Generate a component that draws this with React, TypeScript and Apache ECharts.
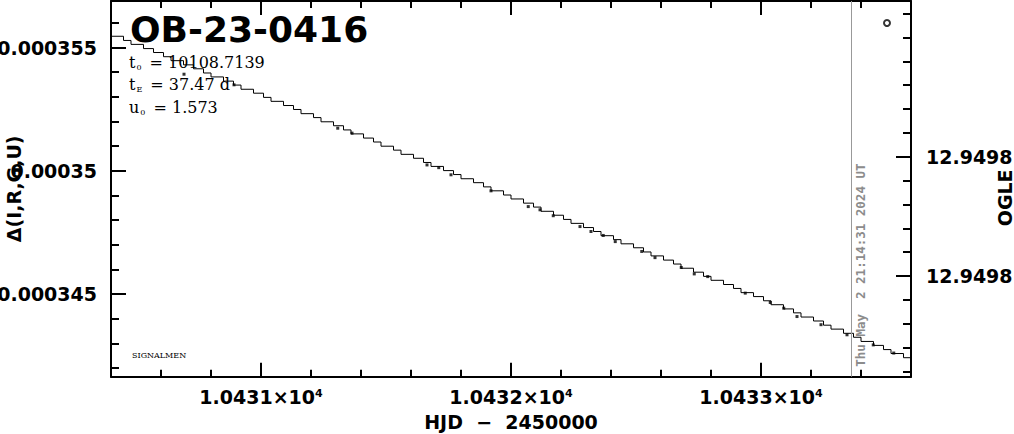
import React, { useEffect, useRef } from "react";
import * as echarts from "echarts";

// Model curve (step levels)
const stepHjd = [
  10430.40, 10430.45, 10430.48, 10430.53, 10430.57, 10430.61, 10430.64, 10430.69, 10430.73, 10430.77,
  10430.80, 10430.85, 10430.89, 10430.92, 10430.97, 10431.01, 10431.04, 10431.09, 10431.13, 10431.16,
  10431.21, 10431.24, 10431.29, 10431.33, 10431.36, 10431.41, 10431.45, 10431.48, 10431.53, 10431.56,
  10431.61, 10431.65, 10431.68, 10431.73, 10431.77, 10431.80, 10431.85, 10431.89, 10431.92, 10431.97,
  10432.00, 10432.05, 10432.09, 10432.12, 10432.17, 10432.21, 10432.24, 10432.29, 10432.33, 10432.36,
  10432.41, 10432.44, 10432.49, 10432.53, 10432.56, 10432.61, 10432.65, 10432.68, 10432.73, 10432.77,
  10432.80, 10432.85, 10432.89, 10432.92, 10432.97, 10433.01, 10433.04, 10433.09, 10433.13, 10433.16,
  10433.21, 10433.25, 10433.28, 10433.33, 10433.37, 10433.40, 10433.45, 10433.49, 10433.52, 10433.57,
  10433.60,
];
const stepDelta = [
  3.5546e-4, 3.5529e-4, 3.5513e-4, 3.5496e-4, 3.5480e-4, 3.5463e-4, 3.5447e-4, 3.5430e-4, 3.5414e-4, 3.5397e-4,
  3.5381e-4, 3.5364e-4, 3.5348e-4, 3.5331e-4, 3.5315e-4, 3.5298e-4, 3.5282e-4, 3.5265e-4, 3.5249e-4, 3.5232e-4,
  3.5216e-4, 3.5199e-4, 3.5183e-4, 3.5166e-4, 3.5150e-4, 3.5133e-4, 3.5117e-4, 3.5100e-4, 3.5084e-4, 3.5067e-4,
  3.5051e-4, 3.5034e-4, 3.5018e-4, 3.5001e-4, 3.4985e-4, 3.4968e-4, 3.4952e-4, 3.4935e-4, 3.4919e-4, 3.4902e-4,
  3.4886e-4, 3.4869e-4, 3.4853e-4, 3.4836e-4, 3.4820e-4, 3.4803e-4, 3.4787e-4, 3.4770e-4, 3.4754e-4, 3.4737e-4,
  3.4721e-4, 3.4704e-4, 3.4688e-4, 3.4671e-4, 3.4655e-4, 3.4638e-4, 3.4622e-4, 3.4605e-4, 3.4589e-4, 3.4572e-4,
  3.4556e-4, 3.4539e-4, 3.4523e-4, 3.4506e-4, 3.4490e-4, 3.4473e-4, 3.4457e-4, 3.4440e-4, 3.4424e-4, 3.4407e-4,
  3.4391e-4, 3.4374e-4, 3.4358e-4, 3.4341e-4, 3.4325e-4, 3.4308e-4, 3.4292e-4, 3.4275e-4, 3.4259e-4, 3.4242e-4,
  3.4242e-4,
];

// Data points lying on the curve
const pointHjd = [
  10430.692, 10430.892, 10431.307, 10431.364, 10431.664, 10431.711, 10431.760, 10431.920, 10432.069, 10432.116,
  10432.169, 10432.276, 10432.320, 10432.369, 10432.417, 10432.523, 10432.576, 10432.681, 10432.733, 10432.787,
  10432.937, 10433.037, 10433.091, 10433.144, 10433.240, 10433.344, 10433.449, 10433.531,
];
const pointDelta = [
  3.5392e-4, 3.5349e-4, 3.5173e-4, 3.5153e-4, 3.5024e-4, 3.5013e-4, 3.4984e-4, 3.4919e-4, 3.4855e-4, 3.4842e-4,
  3.4818e-4, 3.4774e-4, 3.4754e-4, 3.4738e-4, 3.4713e-4, 3.4673e-4, 3.4648e-4, 3.4608e-4, 3.4582e-4, 3.4571e-4,
  3.4504e-4, 3.4466e-4, 3.4443e-4, 3.4409e-4, 3.4376e-4, 3.4335e-4, 3.4294e-4, 3.4261e-4,
];

// Outlying point (open circle, top right)
const outlierHjd = [10433.504];
const outlierDelta = [3.5600e-4];

// Axes
const xMin = 10430.4;
const xMax = 10433.6;
const xMajor = [10431, 10432, 10433];
const xMajorLabels = ["1.0431", "1.0432", "1.0433"];
const xMinor = [10430.6, 10430.8, 10431.2, 10431.4, 10431.6, 10431.8, 10432.2, 10432.4, 10432.6, 10432.8, 10433.2, 10433.4];

const yMin = 3.4165e-4;
const yMax = 3.5689e-4;
const yMajor = [3.45e-4, 3.5e-4, 3.55e-4];
const yMajorLabels = ["0.000345", "0.00035", "0.000355"];
const yMinor = [3.42e-4, 3.43e-4, 3.44e-4, 3.46e-4, 3.47e-4, 3.48e-4, 3.49e-4, 3.51e-4, 3.52e-4, 3.53e-4, 3.54e-4, 3.56e-4];

const magMin = 12.94973474;
const magMax = 12.9498922;
const magMajor = [12.9498, 12.94985];
const magMajorLabels = ["12.9498", "12.9498"];
const magMinor = [12.94974, 12.94975, 12.94976, 12.94977, 12.94978, 12.94979, 12.94981, 12.94982, 12.94983, 12.94984, 12.94986, 12.94987, 12.94988, 12.94989];

const markerHjd = 10433.357;
const markerText = "Thu May  2 21:14:31 2024 UT";

const titleText = "OB-23-0416";
const paramSymbols = ["t", "t", "u"];
const paramSubs = ["0", "E", "0"];
const paramValues = [" = 10108.7139", " = 37.47 d", " = 1.573"];
const signatureText = "SIGNALMEN";

const xName = "HJD  \u2212  2450000";
const yName = "\u0394(I,R,G,U)";
const magName = "OGLE";

const SANS = "DejaVu Sans";
const SERIF = "DejaVu Serif";

function lookup(values: number[], labels: string[], v: number): string {
  let best = 0;
  let bd = Infinity;
  values.forEach((m, i) => {
    const d = Math.abs(m - v);
    if (d < bd) {
      bd = d;
      best = i;
    }
  });
  return labels[best];
}

const tickFont = { fontFamily: SANS, fontWeight: "bold" as const, fontSize: 19, color: "#000" };
const axisLineStyle = { color: "#000", width: 2 };

function buildOption() {
  const xAxis = [
    {
      type: "value",
      position: "bottom",
      min: xMin,
      max: xMax,
      axisLine: { show: true, onZero: false, lineStyle: axisLineStyle },
      axisTick: { show: true, inside: true, length: 14, lineStyle: { color: "#000", width: 2 }, customValues: xMajor },
      axisLabel: {
        customValues: xMajor,
        margin: 11,
        ...tickFont,
        formatter: (v: number) => `${lookup(xMajor, xMajorLabels, v)}\u00d710{sup|4}`,
        rich: { sup: { fontFamily: SANS, fontWeight: "bold", fontSize: 11, verticalAlign: "top", lineHeight: 12, color: "#000" } },
      },
      splitLine: { show: false },
      name: xName,
      nameLocation: "middle",
      nameGap: 36,
      nameTextStyle: { ...tickFont },
    },
    {
      type: "value",
      position: "bottom",
      min: xMin,
      max: xMax,
      axisLine: { show: false, onZero: false },
      axisTick: { show: true, inside: true, length: 7, lineStyle: { color: "#000", width: 2 }, customValues: xMinor },
      axisLabel: { show: false },
      splitLine: { show: false },
    },
    {
      type: "value",
      position: "top",
      min: xMin,
      max: xMax,
      axisLine: { show: true, onZero: false, lineStyle: axisLineStyle },
      axisTick: { show: true, inside: true, length: 14, lineStyle: { color: "#000", width: 2 }, customValues: xMajor },
      axisLabel: { show: false },
      splitLine: { show: false },
    },
    {
      type: "value",
      position: "top",
      min: xMin,
      max: xMax,
      axisLine: { show: false, onZero: false },
      axisTick: { show: true, inside: true, length: 7, lineStyle: { color: "#000", width: 2 }, customValues: xMinor },
      axisLabel: { show: false },
      splitLine: { show: false },
    },
  ];

  const yAxis = [
    {
      type: "value",
      position: "left",
      min: yMin,
      max: yMax,
      axisLine: { show: true, onZero: false, lineStyle: axisLineStyle },
      axisTick: { show: true, inside: true, length: 15, lineStyle: { color: "#000", width: 2 }, customValues: yMajor },
      axisLabel: {
        customValues: yMajor,
        margin: 14,
        ...tickFont,
        formatter: (v: number) => lookup(yMajor, yMajorLabels, v),
      },
      splitLine: { show: false },
      name: yName,
      nameLocation: "middle",
      nameGap: 88,
      nameMoveOverlap: false,
      nameTextStyle: { ...tickFont },
    },
    {
      type: "value",
      position: "left",
      min: yMin,
      max: yMax,
      axisLine: { show: false, onZero: false },
      axisTick: { show: true, inside: true, length: 8, lineStyle: { color: "#000", width: 2 }, customValues: yMinor },
      axisLabel: { show: false },
      splitLine: { show: false },
    },
    {
      type: "value",
      position: "right",
      inverse: true,
      min: magMin,
      max: magMax,
      axisLine: { show: true, onZero: false, lineStyle: axisLineStyle },
      axisTick: { show: true, inside: true, length: 15, lineStyle: { color: "#000", width: 2 }, customValues: magMajor },
      axisLabel: {
        customValues: magMajor,
        margin: 15,
        ...tickFont,
        formatter: (v: number) => lookup(magMajor, magMajorLabels, v),
      },
      splitLine: { show: false },
      name: magName,
      nameLocation: "middle",
      nameGap: 84,
      nameMoveOverlap: false,
      nameTextStyle: { ...tickFont, padding: [0, 18, 0, 0] },
    },
    {
      type: "value",
      position: "right",
      inverse: true,
      min: magMin,
      max: magMax,
      axisLine: { show: false, onZero: false },
      axisTick: { show: true, inside: true, length: 8, lineStyle: { color: "#000", width: 2 }, customValues: magMinor },
      axisLabel: { show: false },
      splitLine: { show: false },
    },
  ];

  const paramGraphics = paramSymbols.map((s, i) => ({
    type: "text",
    left: 129,
    top: 54 + i * 22.7,
    silent: true,
    style: {
      text: `{m|${s}}{s|${paramSubs[i]}}{m|${paramValues[i]}}`,
      rich: {
        m: { fontFamily: SERIF, fontSize: 16, lineHeight: 18, fill: "#000", verticalAlign: "middle" },
        s: { fontFamily: SERIF, fontSize: 8, lineHeight: 8, fill: "#000", verticalAlign: "bottom", padding: [0, 3, 0, 1] },
      },
    },
  }));

  return {
    animation: false,
    backgroundColor: "#fff",
    title: {
      text: titleText,
      left: 130,
      top: 14,
      padding: 0,
      textStyle: { fontFamily: SANS, fontWeight: "bold", fontSize: 36, lineHeight: 30, color: "#000" },
    },
    grid: { left: 111, right: 103, top: 1, bottom: 57.3, containLabel: false, outerBoundsMode: "none" },
    xAxis,
    yAxis,
    graphic: [
      ...paramGraphics,
      {
        type: "text",
        left: 132,
        top: 351,
        silent: true,
        style: { text: signatureText, fontFamily: SERIF, fontSize: 8, fill: "#000" },
      },
    ],
    series: [
      {
        type: "line",
        xAxisIndex: 0,
        yAxisIndex: 0,
        step: "end",
        symbol: "none",
        data: stepHjd.map((x, i) => [x, stepDelta[i]]),
        lineStyle: { color: "#000", width: 1 },
        silent: true,
        markLine: {
          silent: true,
          symbol: ["none", "none"],
          data: [{ xAxis: markerHjd }],
          lineStyle: { color: "#999", width: 1, type: "solid" },
          label: {
            show: true,
            formatter: markerText,
            position: "insideStartBottom",
            distance: [10, 3],
            color: "#8c8c8c",
            fontFamily: "DejaVu Sans Mono",
            fontWeight: "bold",
            fontSize: 12.5,
          },
          emphasis: { disabled: true },
        },
      },
      {
        type: "scatter",
        xAxisIndex: 0,
        yAxisIndex: 0,
        symbol: "rect",
        symbolSize: 3,
        data: pointHjd.map((x, i) => [x, pointDelta[i]]),
        itemStyle: { color: "#000" },
        silent: true,
      },
      {
        type: "scatter",
        xAxisIndex: 0,
        yAxisIndex: 0,
        symbol: "circle",
        symbolSize: 6,
        data: outlierHjd.map((x, i) => [x, outlierDelta[i]]),
        itemStyle: { color: "#fff", borderColor: "#000", borderWidth: 2 },
        silent: true,
      },
    ],
  };
}

export default function App() {
  const ref = useRef<HTMLDivElement>(null);
  useEffect(() => {
    if (!ref.current) return;
    const chart = echarts.init(ref.current, null, { renderer: "svg" });
    chart.setOption(buildOption() as any);
    return () => chart.dispose();
  }, []);
  return (
    <div
      ref={ref}
      style={{ position: "absolute", left: 0, top: 0, width: 1014, height: 434, background: "#fff" }}
    />
  );
}
